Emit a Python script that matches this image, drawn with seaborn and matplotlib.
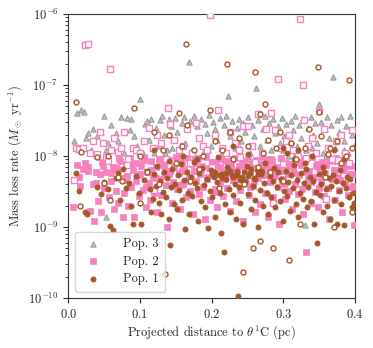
# encoding:utf-8
# Mass loss rate vs projected distance, three populations
import numpy as np
import pandas as pd
import matplotlib
matplotlib.use('Agg')
import matplotlib.pyplot as plt
import seaborn as sns

# Pop. 3 (x in pc, mass loss rate in 1e-9 Msun/yr)
pop3_x = [0.008, 0.012, 0.015, 0.018, 0.022, 0.025, 0.028, 0.032, 0.035, 0.040, 0.045, 0.050, 0.053,
          0.056, 0.060, 0.066, 0.070, 0.074, 0.078, 0.082, 0.086, 0.088, 0.092, 0.096, 0.100, 0.104,
          0.107, 0.110, 0.113, 0.116, 0.119, 0.122, 0.126, 0.128, 0.131, 0.134, 0.137, 0.140, 0.143,
          0.146, 0.149, 0.152, 0.155, 0.158, 0.161, 0.163, 0.166, 0.168, 0.170, 0.173, 0.176, 0.179,
          0.182, 0.185, 0.188, 0.190, 0.193, 0.196, 0.199, 0.202, 0.205, 0.208, 0.211, 0.214, 0.217,
          0.220, 0.223, 0.226, 0.229, 0.232, 0.235, 0.238, 0.241, 0.244, 0.247, 0.250, 0.253, 0.256,
          0.259, 0.262, 0.265, 0.268, 0.271, 0.274, 0.277, 0.280, 0.283, 0.286, 0.289, 0.292, 0.295,
          0.298, 0.301, 0.304, 0.307, 0.310, 0.313, 0.316, 0.319, 0.322, 0.325, 0.328, 0.330, 0.332,
          0.335, 0.338, 0.341, 0.344, 0.347, 0.349, 0.352, 0.355, 0.358, 0.361, 0.364, 0.367, 0.369,
          0.372, 0.375, 0.378, 0.381, 0.384, 0.387, 0.390, 0.393, 0.396, 0.398, 0.052,
          0.135, 0.145, 0.175, 0.195, 0.215, 0.240, 0.270, 0.300, 0.318, 0.340, 0.360, 0.385]
pop3_m = [16, 40, 13, 44, 42, 18, 21, 12, 24, 19, 22, 36, 12,
          15, 27, 21, 16, 35, 11, 34, 23, 33, 19, 14, 64, 11,
          28, 31, 17, 33, 11, 25, 14, 32, 36, 20, 12, 33, 26,
          17, 34, 22, 10, 29, 35, 15, 24, 210, 31, 12, 37, 26,
          18, 33, 11, 28, 21, 38, 14, 30, 24, 17, 34, 10, 27,
          36, 69, 19, 31, 13, 25, 33, 16, 29, 22, 35, 11, 27,
          19, 90, 32, 14, 24, 36, 17, 29, 12, 33, 21, 26, 15,
          34, 19, 28, 10, 31, 23, 36, 14, 27, 18, 33, 1.08, 12,
          25, 35, 20, 29, 15, 54, 30, 11, 24, 35, 18, 27, 128,
          13, 32, 22, 35, 16, 26, 11, 37, 20, 14, 1.36,
          11, 13, 10, 12, 11, 13, 10, 12, 11, 13, 10, 12]

# Pop. 2, filled squares
pop2_x = [0.012, 0.016, 0.020, 0.024, 0.028, 0.031, 0.034, 0.036, 0.038, 0.042, 0.044, 0.046, 0.048,
          0.050, 0.052, 0.055, 0.057, 0.060, 0.062, 0.064, 0.066, 0.068, 0.070, 0.072, 0.074, 0.076,
          0.078, 0.080, 0.082, 0.084, 0.086, 0.088, 0.090, 0.092, 0.094, 0.096, 0.098, 0.100, 0.102,
          0.104, 0.106, 0.108, 0.110, 0.112, 0.114, 0.116, 0.118, 0.120, 0.122, 0.124, 0.126, 0.128,
          0.130, 0.132, 0.134, 0.136, 0.138, 0.140, 0.142, 0.144, 0.146, 0.148, 0.150, 0.152, 0.154,
          0.156, 0.158, 0.160, 0.162, 0.164, 0.166, 0.168, 0.170, 0.172, 0.174, 0.176, 0.178, 0.180,
          0.182, 0.184, 0.186, 0.188, 0.190, 0.192, 0.194, 0.196, 0.198, 0.200, 0.202, 0.204, 0.206,
          0.208, 0.210, 0.212, 0.214, 0.216, 0.218, 0.220, 0.222, 0.224, 0.226, 0.228, 0.230, 0.232,
          0.234, 0.236, 0.238, 0.240, 0.242, 0.244, 0.246, 0.248, 0.250, 0.252, 0.254, 0.256, 0.258,
          0.260, 0.262, 0.264, 0.266, 0.268, 0.270, 0.272, 0.274, 0.276, 0.278, 0.280, 0.282, 0.284,
          0.286, 0.288, 0.290, 0.292, 0.294, 0.296, 0.298, 0.300, 0.302, 0.304, 0.306, 0.308, 0.310,
          0.312, 0.314, 0.316, 0.318, 0.320, 0.322, 0.324, 0.326, 0.328, 0.330, 0.332, 0.334, 0.336,
          0.338, 0.340, 0.342, 0.344, 0.346, 0.348, 0.350, 0.352, 0.354, 0.356, 0.358, 0.360, 0.362,
          0.364, 0.366, 0.368, 0.370, 0.372, 0.374, 0.376, 0.378, 0.380, 0.382, 0.384, 0.386, 0.388,
          0.390, 0.392, 0.394, 0.396, 0.398, 0.006,
          0.015, 0.027, 0.039, 0.047, 0.059, 0.067, 0.079, 0.087, 0.097, 0.105, 0.115, 0.123,
          0.133, 0.141, 0.151, 0.159, 0.167, 0.177, 0.185, 0.193, 0.203, 0.211, 0.219, 0.227,
          0.235, 0.243, 0.251, 0.259, 0.267, 0.275, 0.283, 0.291, 0.299, 0.307, 0.315, 0.323,
          0.331, 0.339, 0.347, 0.355, 0.363, 0.371, 0.379, 0.387, 0.395, 0.109, 0.157, 0.205,
          0.253, 0.301, 0.349, 0.397, 0.071, 0.129, 0.181, 0.229, 0.277, 0.325, 0.373]
pop2_m = [7.5, 3.8, 6.5, 8.0, 6.2, 1.7, 4.0, 1.2, 6.0, 2.3, 5.5, 1.6, 7.3,
          3.5, 5.9, 9.0, 2.6, 4.4, 7.0, 1.8, 3.2, 6.6, 2.2, 8.5, 4.9, 1.4,
          3.0, 7.8, 5.2, 2.0, 9.2, 3.6, 6.3, 1.4, 4.5, 8.0, 2.7, 5.6, 7.2,
          3.3, 9.5, 1.9, 6.0, 4.1, 2.4, 8.4, 5.0, 3.0, 6.9, 1.6, 9.0, 4.7,
          2.8, 7.5, 5.4, 3.9, 1.0, 8.8, 6.2, 2.2, 4.3, 7.0, 9.8, 3.4, 5.8,
          1.8, 8.1, 4.0, 6.5, 2.6, 9.3, 5.1, 3.2, 7.7, 1.5, 6.1, 4.4, 8.9,
          2.9, 5.5, 7.2, 3.7, 1.3, 9.6, 4.8, 6.7, 2.4, 8.3, 5.3, 3.1, 7.4,
          1.9, 9.1, 4.2, 6.0, 2.7, 8.6, 5.7, 3.5, 7.9, 1.7, 6.4, 4.6, 9.4,
          2.3, 5.0, 7.1, 3.3, 8.2, 1.2, 6.6, 4.1, 9.0, 2.8, 5.9, 7.6, 3.8,
          1.6, 8.7, 4.9, 6.3, 2.1, 9.7, 5.4, 3.0, 7.3, 1.4, 6.8, 4.3, 8.5,
          2.6, 5.2, 7.0, 3.6, 1.1, 9.2, 4.5, 6.1, 2.5, 8.0, 5.6, 3.2, 7.8,
          1.8, 6.5, 4.0, 9.3, 2.9, 5.3, 7.4, 3.4, 1.5, 8.8, 0.45, 4.7, 6.2,
          2.2, 9.5, 5.0, 3.1, 7.2, 1.9, 6.7, 4.4, 8.3, 2.7, 5.7, 7.5, 3.5,
          1.3, 9.0, 4.8, 6.0, 2.4, 8.6, 5.1, 3.3, 7.7, 1.6, 6.4, 4.2, 9.4,
          2.8, 5.5, 7.1, 3.7, 1.05, 1.9,
          5.0, 7.0, 4.2, 8.2, 5.8, 6.8, 4.6, 7.6, 5.3, 8.8, 6.4, 4.9,
          7.3, 5.6, 8.5, 6.1, 4.4, 7.9, 6.6, 5.1, 8.1, 6.9, 4.7, 7.5,
          5.9, 8.4, 6.2, 4.5, 7.7, 5.4, 8.9, 6.5, 4.8, 7.2, 5.7, 8.3,
          6.0, 4.3, 7.8, 5.2, 8.6, 6.3, 4.6, 7.4, 5.5, 3.6, 3.9, 3.4,
          3.7, 4.0, 3.5, 3.8, 9.0, 8.7, 9.3, 8.9, 9.1, 8.6, 9.2]

# Pop. 2, open squares
pop2o_x = [0.008, 0.011, 0.015, 0.021, 0.024, 0.0275, 0.030, 0.035, 0.040, 0.044, 0.048, 0.052, 0.058,
           0.060, 0.064, 0.070, 0.074, 0.078, 0.084, 0.090, 0.094, 0.100, 0.106, 0.112, 0.118, 0.124,
           0.130, 0.139, 0.142, 0.148, 0.155, 0.160, 0.166, 0.172, 0.178, 0.182, 0.188, 0.194, 0.198,
           0.204, 0.209, 0.214, 0.220, 0.226, 0.232, 0.238, 0.244, 0.250, 0.256, 0.264, 0.270, 0.276,
           0.283, 0.288, 0.293, 0.296, 0.303, 0.308, 0.314, 0.320, 0.323, 0.327, 0.329, 0.334, 0.340,
           0.346, 0.350, 0.356, 0.362, 0.368, 0.374, 0.380, 0.386, 0.392, 0.395, 0.285, 0.120, 0.360,
           0.055, 0.082, 0.136, 0.170, 0.200, 0.240, 0.260, 0.300, 0.332, 0.376]
pop2o_m = [4.6, 13, 12.5, 13, 360, 375, 11, 16, 10.5, 22, 15, 9.5, 169,
           12, 18, 11.5, 13, 22, 9, 13, 12, 11, 16, 25, 13, 20,
           15, 47, 28, 17, 12, 14, 24, 11, 29, 18, 14, 12, 970,
           20, 45, 13, 11, 22, 15, 12, 26, 26, 14, 39, 11, 24,
           40, 23, 122, 13, 16, 20, 12, 10, 860, 99, 32, 14, 18,
           11, 43, 24, 13, 9, 16, 20, 11, 8, 23.5, 2.2, 3.3, 2.5,
           8.5, 7.5, 9.0, 8.0, 7.0, 9.5, 8.2, 7.8, 9.2, 8.8]

# Pop. 1, filled circles
pop1_x = [0.0105, 0.0156, 0.024, 0.026, 0.040, 0.045, 0.050, 0.055, 0.058, 0.062, 0.066, 0.070, 0.072,
          0.076, 0.080, 0.085, 0.088, 0.090, 0.094, 0.098, 0.102, 0.106, 0.110, 0.114, 0.116, 0.118,
          0.120, 0.122, 0.124, 0.126, 0.128, 0.130, 0.132, 0.134, 0.136, 0.138, 0.140, 0.142, 0.143,
          0.145, 0.147, 0.149, 0.151, 0.153, 0.155, 0.157, 0.159, 0.161, 0.163, 0.165, 0.167, 0.169,
          0.171, 0.173, 0.175, 0.177, 0.179, 0.181, 0.183, 0.185, 0.187, 0.189, 0.191, 0.193, 0.195,
          0.197, 0.199, 0.201, 0.203, 0.205, 0.207, 0.209, 0.211, 0.213, 0.215, 0.217, 0.218, 0.220,
          0.222, 0.224, 0.226, 0.228, 0.230, 0.232, 0.234, 0.236, 0.238, 0.240, 0.242, 0.244, 0.2365,
          0.247, 0.249, 0.251, 0.253, 0.255, 0.257, 0.259, 0.261, 0.263, 0.265, 0.267, 0.269, 0.271,
          0.273, 0.275, 0.277, 0.279, 0.281, 0.283, 0.285, 0.287, 0.289, 0.291, 0.293, 0.295, 0.297,
          0.299, 0.301, 0.303, 0.305, 0.307, 0.309, 0.311, 0.313, 0.315, 0.317, 0.319, 0.321, 0.323,
          0.325, 0.327, 0.329, 0.331, 0.333, 0.335, 0.337, 0.339, 0.341, 0.343, 0.345, 0.347, 0.349,
          0.351, 0.353, 0.355, 0.357, 0.359, 0.361, 0.363, 0.365, 0.367, 0.369, 0.371, 0.373, 0.375,
          0.377, 0.379, 0.381, 0.383, 0.385, 0.387, 0.389, 0.391, 0.393, 0.395, 0.397, 0.399,
          0.200, 0.205, 0.210, 0.215, 0.220, 0.225, 0.230, 0.235, 0.240, 0.245, 0.250, 0.255, 0.260,
          0.265, 0.270, 0.300, 0.305, 0.310, 0.315, 0.320, 0.330, 0.340, 0.355, 0.370, 0.385, 0.120,
          0.160, 0.180, 0.140, 0.230, 0.250]
pop1_m = [5.7, 3.2, 1.6, 1.5, 3.7, 2.9, 4.3, 3.4, 1.03, 0.89, 4.9, 5.8, 2.4,
          6.6, 3.5, 4.1, 2.0, 1.1, 5.2, 3.0, 1.1, 4.6, 6.2, 3.4, 1.6, 2.5,
          5.5, 3.8, 7.1, 2.2, 4.4, 1.5, 3.1, 5.9, 2.6, 4.9, 1.3, 0.56, 3.6,
          6.5, 2.1, 4.0, 1.8, 5.3, 3.3, 7.8, 2.4, 4.6, 0.92, 6.0, 3.0, 1.5,
          5.0, 2.7, 8.2, 4.2, 3.5, 1.2, 5.7, 2.3, 6.8, 3.9, 1.9, 4.8, 0.95,
          3.2, 6.3, 2.6, 5.1, 1.4, 4.3, 9.5, 3.0, 0.82, 5.6, 0.44, 2.1, 4.7,
          6.9, 3.4, 1.6, 5.3, 2.8, 4.0, 1.3, 6.1, 3.6, 2.2, 5.0, 1.1, 0.107,
          4.4, 7.3, 2.9, 5.8, 1.8, 3.8, 4.9, 2.4, 6.4, 1.0, 3.3, 5.5, 2.0,
          4.1, 8.0, 3.0, 1.5, 5.2, 2.6, 4.5, 6.7, 1.9, 3.7, 5.9, 2.3, 4.8,
          1.2, 3.2, 6.2, 2.7, 4.3, 1.7, 5.4, 3.5, 7.5, 2.1, 4.6, 1.4, 3.0,
          5.7, 2.5, 4.2, 6.5, 1.9, 3.6, 5.0, 2.3, 4.4, 1.1, 3.1, 0.59, 5.6,
          2.8, 4.0, 1.6, 6.0, 3.4, 2.0, 4.9, 1.3, 3.8, 5.3, 2.4, 4.5, 1.1,
          3.2, 6.3, 2.1, 4.1, 1.05, 3.5, 5.1, 2.6, 4.7, 1.9, 3.0, 2.2,
          5.5, 6.0, 5.3, 4.9, 5.8, 6.2, 5.0, 5.4, 4.6, 5.9, 5.2, 6.5, 4.8,
          5.6, 6.1, 13, 11, 15, 9, 12, 8, 10, 7, 12, 9, 12,
          10, 9, 8.5, 14, 10.5]

# Pop. 1, open circles
pop1o_x = [0.011, 0.0168, 0.018, 0.040, 0.050, 0.055, 0.058, 0.070, 0.075, 0.0916, 0.0995, 0.100, 0.110,
           0.120, 0.126, 0.132, 0.135, 0.140, 0.150, 0.154, 0.158, 0.164, 0.166, 0.170, 0.176, 0.182,
           0.188, 0.198, 0.205, 0.210, 0.215, 0.222, 0.225, 0.230, 0.238, 0.243, 0.245, 0.250, 0.258,
           0.261, 0.264, 0.267, 0.268, 0.272, 0.275, 0.278, 0.282, 0.285, 0.290, 0.295, 0.300, 0.3075,
           0.310, 0.318, 0.323, 0.330, 0.336, 0.348, 0.350, 0.352, 0.358, 0.362, 0.365, 0.370, 0.375,
           0.380, 0.392, 0.3955, 0.388, 0.396]
pop1o_m = [57, 2.0, 11.5, 9.5, 4.2, 10, 2.37, 5, 4.5, 47, 2.2, 10, 6,
           22, 4.0, 12, 0.22, 20, 8, 40, 14, 383, 27, 4.5, 12, 6.5,
           10, 44, 16, 3.5, 12, 195, 22, 9, 18, 0.23, 4.0, 14, 0.51,
           152, 7, 39, 0.63, 11, 53, 17, 6, 0.51, 13, 22, 4.5, 0.34,
           15, 9, 1.1, 13, 24, 178, 42, 19, 5, 10.8, 13, 1.0, 16,
           8, 118, 1.64, 10, 13]

GREY = '#999999'
PINK = '#f781bf'
BROWN = '#a65628'


def to_df(xs, ms):
    return pd.DataFrame({'dist': xs, 'mdot': np.array(ms) * 1e-9})


sns.set_style('ticks')
plt.rcParams['font.family'] = ['cmr10', 'DejaVu Serif']
plt.rcParams['mathtext.fontset'] = 'cm'
plt.rcParams['axes.formatter.use_mathtext'] = True
plt.rcParams['font.size'] = 9

fig, ax = plt.subplots(figsize=(3.73, 3.48), dpi=100)
fig.subplots_adjust(left=0.183, right=0.952, top=0.960, bottom=0.144)

sns.scatterplot(data=to_df(pop3_x, pop3_m), x='dist', y='mdot', marker='^', s=14,
                color='#c4c4c4', edgecolor=GREY, linewidth=0.8, ax=ax, label='Pop. 3', zorder=2)
sns.scatterplot(data=to_df(pop2_x, pop2_m), x='dist', y='mdot', marker='s', s=13,
                color=PINK, edgecolor=PINK, linewidth=0.5, ax=ax, label='Pop. 2', zorder=3)
sns.scatterplot(data=to_df(pop2o_x, pop2o_m), x='dist', y='mdot', marker='s', s=13,
                color='white', edgecolor=PINK, linewidth=1.0, ax=ax, legend=False, zorder=3)
sns.scatterplot(data=to_df(pop1_x, pop1_m), x='dist', y='mdot', marker='o', s=14,
                color=BROWN, edgecolor=BROWN, linewidth=0.5, ax=ax, label='Pop. 1', zorder=4)
sns.scatterplot(data=to_df(pop1o_x, pop1o_m), x='dist', y='mdot', marker='o', s=13,
                color='white', edgecolor=BROWN, linewidth=1.0, ax=ax, legend=False, zorder=4)

ax.set_yscale('log')
ax.set_xlim(0, 0.4)
ax.set_ylim(1e-10, 1e-6)
ax.set_xticks([0.0, 0.1, 0.2, 0.3, 0.4])
ax.set_xlabel(r'Projected distance to $\theta^1$C (pc)', labelpad=2)
ax.set_ylabel(r'Mass loss rate ($M_\odot$ yr$^{-1}$)', labelpad=3)
for sp in ax.spines.values():
    sp.set_visible(True)
    sp.set_color('#333333')

ax.legend(loc='lower left', frameon=True, fancybox=True, handlelength=2.0,
          handletextpad=1.4, labelspacing=0.45, borderpad=0.5)

fig.savefig('out.png', dpi=100)
